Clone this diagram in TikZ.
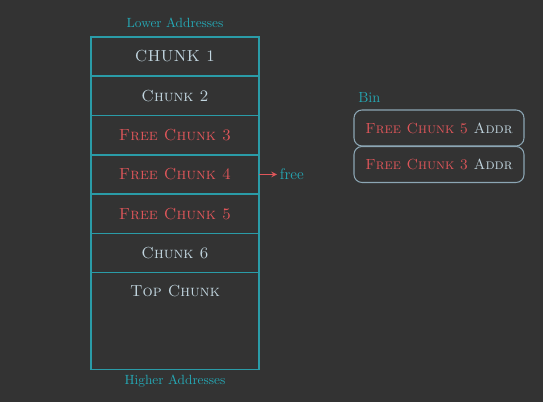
\documentclass[tikz,border=0pt]{standalone}
\usetikzlibrary{positioning}
\usetikzlibrary{arrows}

\definecolor{bgc}{HTML}{333333}
\definecolor{linec}{HTML}{2A9CA8}
\definecolor{txtc}{HTML}{C2D6E0}
\definecolor{redc}{HTML}{E0565A}
\definecolor{labc}{HTML}{25A9B6}
\definecolor{binc}{HTML}{8CA6B4}

\tikzset{
 chunk/.style={draw=linec, line width=1pt, minimum width=126pt, minimum height=29.4pt, inner sep=0, outer sep=0},
 ctxt/.style={text=txtc, font=\fontsize{12}{14}\selectfont\scshape},
 freetxt/.style={ctxt, text=redc},
 addrlbl/.style={text=labc, font=\fontsize{10}{12}\selectfont},
 binbox/.style={draw=binc, line width=.8pt, rounded corners=6pt, minimum width=127.5pt, minimum height=27pt, inner sep=0, font=\fontsize{11}{13}\selectfont\scshape, text=txtc}
}

\begin{document}
\begin{tikzpicture}[x=.75pt, y=-.75pt]
\fill[bgc] (0,0) rectangle (543,402);
\useasboundingbox (0,0) rectangle (543,402);

% heap column
\node[chunk, ctxt]    (c1) at (175,56.5)  {CHUNK 1};
\node[chunk, ctxt]    (c2) at (175,95.8)  {Chunk 2};
\node[chunk, freetxt] (c3) at (175,135.2) {Free Chunk 3};
\node[chunk, freetxt] (c4) at (175,174.5) {Free Chunk 4};
\node[chunk, freetxt] (c5) at (175,213.8) {Free Chunk 5};
\node[chunk, ctxt]    (c6) at (175,253.2) {Chunk 6};
\node[chunk, minimum height=72.75pt, anchor=north] (c7) at (175,272.5) {};
\node[ctxt] (toplbl) at (175,291) {Top Chunk};

\node[addrlbl] (lower)  at (175,23)  {Lower Addresses};
\node[addrlbl] (higher) at (175,381) {Higher Addresses};

% freed chunk
\node[addrlbl, font=\fontsize{11.5}{13}\selectfont, anchor=west, inner sep=2pt] (freelbl) at (277,174.5) {free};
\draw[redc, line width=.9pt, ->, >=stealth] (c4.east) -- (freelbl.west);

% bin
\node[addrlbl, font=\fontsize{11}{13}\selectfont, anchor=west, inner sep=0] (binlbl) at (358,97) {Bin};
\node[binbox] (b1) at (439,128)   {\textcolor{redc}{Free Chunk 5} Addr};
\node[binbox] (b2) at (439,164.5) {\textcolor{redc}{Free Chunk 3} Addr};
\end{tikzpicture}
\end{document}
